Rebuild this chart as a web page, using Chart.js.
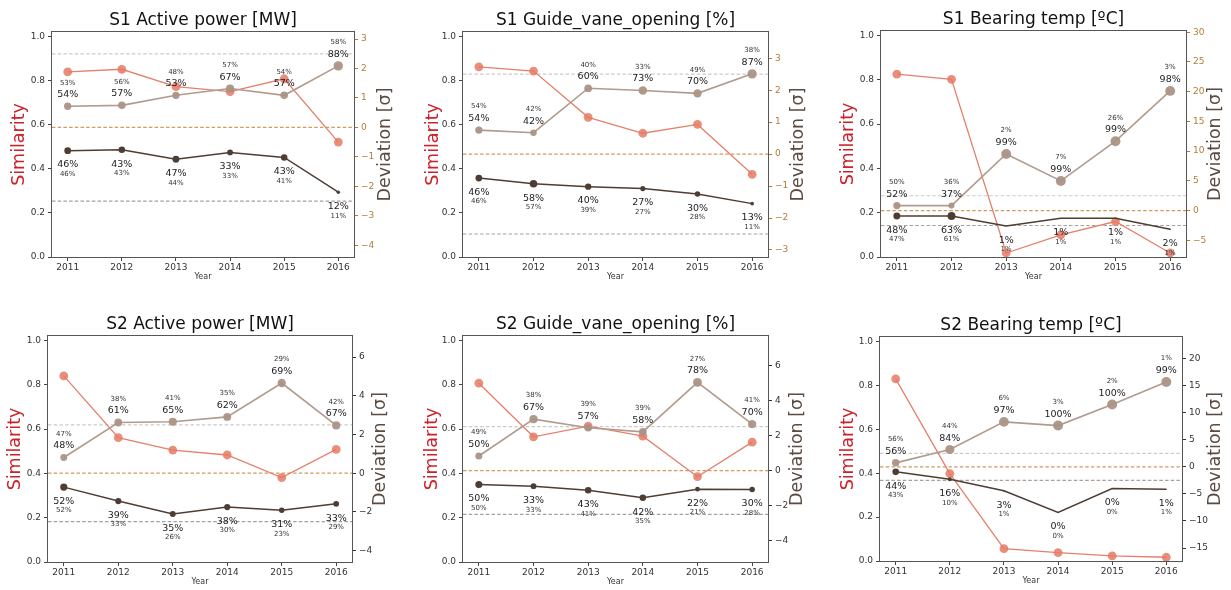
<!DOCTYPE html>
<html><head><meta charset="utf-8">
<script src="https://cdn.jsdelivr.net/npm/chart.js@4.4.1/dist/chart.umd.min.js"></script>
<style>
html,body{margin:0;padding:0;background:#fff;}
body{width:1231px;height:590px;position:relative;overflow:hidden;}
canvas{position:absolute;}
</style></head><body>
<script>
// ---------------- data ----------------
const years = [2011, 2012, 2013, 2014, 2015, 2016];
const titles = ['S1 Active power [MW]', 'S1 Guide_vane_opening [%]', 'S1 Bearing temp [ºC]',
                'S2 Active power [MW]', 'S2 Guide_vane_opening [%]', 'S2 Bearing temp [ºC]'];
const simTicks = [0, 0.2, 0.4, 0.6, 0.8, 1.0];
const devBands = [2.5, 0, -2.5];

// S1 Active power
const s1PowerSim = [0.839, 0.851, 0.772, 0.750, 0.808, 0.521];
const s1PowerUp = [0.72, 0.75, 1.09, 1.32, 1.09, 2.09];
const s1PowerLow = [-0.79, -0.76, -1.08, -0.85, -1.02, -2.20];
const s1PowerUpPct = [54, 57, 53, 67, 57, 88];
const s1PowerUpPctSmall = [53, 56, 48, 57, 54, 58];
const s1PowerLowPct = [46, 43, 47, 33, 43, 12];
const s1PowerLowPctSmall = [46, 43, 44, 33, 41, 11];
const s1PowerDevTicks = [-4, -3, -2, -1, 0, 1, 2, 3];

// S1 Guide vane opening
const s1VaneSim = [0.862, 0.843, 0.633, 0.561, 0.601, 0.375];
const s1VaneUp = [0.75, 0.67, 2.06, 1.99, 1.90, 2.51];
const s1VaneLow = [-0.75, -0.93, -1.02, -1.08, -1.25, -1.55];
const s1VaneUpPct = [54, 42, 60, 73, 70, 87];
const s1VaneUpPctSmall = [54, 42, 40, 33, 49, 38];
const s1VaneLowPct = [46, 58, 40, 27, 30, 13];
const s1VaneLowPctSmall = [46, 57, 39, 27, 28, 11];
const s1VaneDevTicks = [-3, -2, -1, 0, 1, 2, 3];

// S1 Bearing temp
const s1TempSim = [0.825, 0.802, 0.018, 0.100, 0.160, 0.018];
const s1TempUp = [0.84, 0.84, 9.53, 4.99, 11.67, 20.13];
const s1TempLow = [-0.90, -0.90, -2.58, -1.29, -1.29, -3.14];
const s1TempUpPct = [52, 37, 99, 99, 99, 98];
const s1TempUpPctSmall = [50, 36, 2, 7, 26, 3];
const s1TempLowPct = [48, 63, 1, 1, 1, 2];
const s1TempLowPctSmall = [47, 61, 1, 1, 1, 1];
const s1TempDevTicks = [-5, 0, 5, 10, 15, 20, 25, 30];

// S2 Active power
const s2PowerSim = [0.840, 0.561, 0.505, 0.483, 0.381, 0.508];
const s2PowerUp = [0.81, 2.62, 2.66, 2.91, 4.66, 2.47];
const s2PowerLow = [-0.72, -1.44, -2.11, -1.75, -1.92, -1.58];
const s2PowerUpPct = [48, 61, 65, 62, 69, 67];
const s2PowerUpPctSmall = [47, 38, 41, 35, 29, 42];
const s2PowerLowPct = [52, 39, 35, 38, 31, 33];
const s2PowerLowPctSmall = [52, 33, 26, 30, 23, 29];
const s2PowerDevTicks = [-4, -2, 0, 2, 4, 6];

// S2 Guide vane opening
const s2VaneSim = [0.807, 0.565, 0.613, 0.568, 0.385, 0.541];
const s2VaneUp = [0.83, 2.93, 2.44, 2.21, 5.03, 2.65];
const s2VaneLow = [-0.79, -0.89, -1.12, -1.55, -1.06, -1.08];
const s2VaneUpPct = [50, 67, 57, 58, 78, 70];
const s2VaneUpPctSmall = [49, 38, 39, 39, 27, 41];
const s2VaneLowPct = [50, 33, 43, 42, 22, 30];
const s2VaneLowPctSmall = [50, 33, 41, 35, 21, 28];
const s2VaneDevTicks = [-4, -2, 0, 2, 4, 6];

// S2 Bearing temp
const s2TempSim = [0.829, 0.398, 0.056, 0.038, 0.023, 0.017];
const s2TempUp = [0.74, 3.20, 8.31, 7.63, 11.51, 15.69];
const s2TempLow = [-0.92, -2.28, -4.43, -8.43, -4.00, -4.12];
const s2TempUpPct = [56, 84, 97, 100, 100, 99];
const s2TempUpPctSmall = [56, 44, 6, 3, 2, 1];
const s2TempLowPct = [44, 16, 3, 0, 0, 1];
const s2TempLowPctSmall = [43, 10, 1, 0, 0, 1];
const s2TempDevTicks = [-15, -10, -5, 0, 5, 10, 15, 20];

// ---------------- panels (layout / scale settings) ----------------
const panels = [
  {title: titles[0], rect: [52, 32, 354, 257], devMin: -4.4, devMax: 3.24, devTicks: s1PowerDevTicks, devTickColor: '#b27d33',
   sim: s1PowerSim, up: s1PowerUp, low: s1PowerLow, upPct: s1PowerUpPct, upPctS: s1PowerUpPctSmall, lowPct: s1PowerLowPct, lowPctS: s1PowerLowPctSmall, lOff: 33, rOff: 31},
  {title: titles[1], rect: [463, 32, 768, 257], devMin: -3.22, devMax: 3.82, devTicks: s1VaneDevTicks, devTickColor: '#b27d33',
   sim: s1VaneSim, up: s1VaneUp, low: s1VaneLow, upPct: s1VaneUpPct, upPctS: s1VaneUpPctSmall, lowPct: s1VaneLowPct, lowPctS: s1VaneLowPctSmall, lOff: 30, rOff: 30},
  {title: titles[2], rect: [881, 31, 1186, 257], devMin: -7.8, devMax: 30.2, devTicks: s1TempDevTicks, devTickColor: '#b27d33',
   sim: s1TempSim, up: s1TempUp, low: s1TempLow, upPct: s1TempUpPct, upPctS: s1TempUpPctSmall, lowPct: s1TempLowPct, lowPctS: s1TempLowPctSmall, lOff: 33, rOff: 29},
  {title: titles[3], rect: [48, 336, 352, 562], devMin: -4.59, devMax: 7.09, devTicks: s2PowerDevTicks, devTickColor: '#333333',
   sim: s2PowerSim, up: s2PowerUp, low: s2PowerLow, upPct: s2PowerUpPct, upPctS: s2PowerUpPctSmall, lowPct: s2PowerLowPct, lowPctS: s2PowerLowPctSmall, lOff: 33, rOff: 28},
  {title: titles[4], rect: [463, 336, 768, 562], devMin: -5.21, devMax: 7.67, devTicks: s2VaneDevTicks, devTickColor: '#333333',
   sim: s2VaneSim, up: s2VaneUp, low: s2VaneLow, upPct: s2VaneUpPct, upPctS: s2VaneUpPctSmall, lowPct: s2VaneLowPct, lowPctS: s2VaneLowPctSmall, lOff: 31, rOff: 29},
  {title: titles[5], rect: [880, 337, 1182, 561], devMin: -17.4, devMax: 24.0, devTicks: s2TempDevTicks, devTickColor: '#333333',
   sim: s2TempSim, up: s2TempUp, low: s2TempLow, upPct: s2TempUpPct, upPctS: s2TempUpPctSmall, lowPct: s2TempLowPct, lowPctS: s2TempLowPctSmall, lOff: 32, rOff: 33}
];

const FONT = '"DejaVu Sans", sans-serif';
const PAD_L = 52, PAD_R = 48, PAD_T = 32, PAD_B = 32;
const RED = '#e4806b', TAUPE = '#b09b8d', DARK = '#4e3d33';
const fmtDev = v => (v < 0 ? '\u2212' + Math.abs(v) : String(v));

const overlay = {
  id: 'overlay',
  beforeDatasetsDraw(chart) {
    const {ctx, chartArea: a} = chart;
    const ys = chart.scales.yDev;
    const cols = ['#cfcaca', '#d49b60', '#a99f9b'];
    ctx.save();
    ctx.lineWidth = 1.2;
    ctx.setLineDash([3.5, 2.2]);
    devBands.forEach((v, i) => {
      const y = ys.getPixelForValue(v);
      ctx.strokeStyle = cols[i];
      ctx.beginPath(); ctx.moveTo(a.left, y); ctx.lineTo(a.right, y); ctx.stroke();
    });
    ctx.restore();
  },
  afterDatasetsDraw(chart) {
    const p = chart.options.plugins.overlay.panel;
    const {ctx} = chart;
    const xs = chart.scales.x, ys = chart.scales.yDev;
    ctx.save();
    ctx.textAlign = 'center';
    ctx.textBaseline = 'middle';
    years.forEach((yr, i) => {
      const x = xs.getPixelForValue(yr);
      const yu = ys.getPixelForValue(p.up[i]);
      const yl = ys.getPixelForValue(p.low[i]);
      ctx.fillStyle = '#222';
      ctx.font = '9.5px ' + FONT;
      ctx.fillText(p.upPct[i] + '%', x, yu - 11.5);
      ctx.fillText(p.lowPct[i] + '%', x, yl + 14.3);
      ctx.fillStyle = '#333';
      ctx.font = '7px ' + FONT;
      ctx.fillText(p.upPctS[i] + '%', x, yu - 23.5);
      ctx.fillText(p.lowPctS[i] + '%', x, yl + 23.5);
    });
    ctx.restore();
  },
  afterDraw(chart) {
    const p = chart.options.plugins.overlay.panel;
    const {ctx, chartArea: a} = chart;
    const cx = (a.left + a.right) / 2, cy = (a.top + a.bottom) / 2;
    ctx.save();
    ctx.strokeStyle = '#555';
    ctx.lineWidth = 1;
    ctx.strokeRect(Math.round(a.left) - 0.5, Math.round(a.top) - 0.5, Math.round(a.right - a.left) + 1, Math.round(a.bottom - a.top) + 1);
    ctx.fillStyle = '#111';
    ctx.font = '17px ' + FONT;
    ctx.textAlign = 'center';
    ctx.textBaseline = 'middle';
    ctx.fillText(p.title, cx, a.top - 11);
    ctx.fillStyle = '#333';
    ctx.font = '8px ' + FONT;
    ctx.fillText('Year', cx, a.bottom + 20);
    ctx.save();
    ctx.translate(a.left - p.lOff, cy);
    ctx.rotate(-Math.PI / 2);
    ctx.fillStyle = '#cc2229';
    ctx.font = '17.5px ' + FONT;
    ctx.fillText('Similarity', 0, 0);
    ctx.restore();
    ctx.save();
    ctx.translate(a.right + p.rOff, cy);
    ctx.rotate(-Math.PI / 2);
    ctx.fillStyle = '#5c4b41';
    ctx.font = '17.5px ' + FONT;
    ctx.fillText('Deviation [\u03c3]', 0, 0);
    ctx.restore();
    ctx.restore();
  }
};

panels.forEach(p => {
  const [L, T, R, B] = p.rect;
  const cv = document.createElement('canvas');
  const W = (R - L) + PAD_L + PAD_R, H = (B - T) + PAD_T + PAD_B;
  cv.width = W; cv.height = H;
  cv.style.left = (L - PAD_L) + 'px';
  cv.style.top = (T - PAD_T) + 'px';
  cv.style.width = W + 'px'; cv.style.height = H + 'px';
  document.body.appendChild(cv);
  const pts = arr => years.map((y, i) => ({x: y, y: arr[i]}));
  new Chart(cv.getContext('2d'), {
    type: 'line',
    data: {
      datasets: [
        {data: pts(p.low), yAxisID: 'yDev', borderColor: DARK, borderWidth: 1.5,
         pointBackgroundColor: DARK, pointBorderWidth: 0,
         pointRadius: c => 0.5 * Math.sqrt(p.lowPct[c.dataIndex]), tension: 0},
        {data: pts(p.up), yAxisID: 'yDev', borderColor: TAUPE, borderWidth: 1.6,
         pointBackgroundColor: 'rgba(170,148,134,0.95)', pointBorderWidth: 0,
         pointRadius: c => 0.5 * Math.sqrt(p.upPct[c.dataIndex]), tension: 0},
        {data: pts(p.sim), yAxisID: 'ySim', borderColor: RED, borderWidth: 1.3,
         pointBackgroundColor: 'rgba(228,122,100,0.85)', pointBorderWidth: 0,
         pointRadius: 4.4, tension: 0}
      ]
    },
    options: {
      responsive: false, animation: false, devicePixelRatio: 1,
      layout: {padding: {top: PAD_T, left: 0, right: 0, bottom: 0}},
      plugins: {legend: {display: false}, tooltip: {enabled: false}, title: {display: false},
                overlay: {panel: p}},
      scales: {
        x: {type: 'linear', position: 'bottom', min: 2010.71, max: 2016.29,
            afterBuildTicks: s => { s.ticks = years.map(v => ({value: v})); },
            afterFit: s => { s.height = PAD_B; },
            grid: {display: true, drawOnChartArea: false, drawTicks: true, tickLength: 4, color: '#444', tickColor: '#444'},
            border: {display: false},
            ticks: {font: {family: FONT, size: 9}, color: '#333', padding: 1, maxRotation: 0, autoSkip: false,
                    callback: v => String(v)}},
        ySim: {type: 'linear', position: 'left', min: 0, max: 1.02,
            afterBuildTicks: s => { s.ticks = simTicks.map(v => ({value: v})); },
            afterFit: s => { s.width = PAD_L; },
            grid: {display: true, drawOnChartArea: false, drawTicks: true, tickLength: 4, color: '#444', tickColor: '#444'},
            border: {display: false},
            ticks: {font: {family: FONT, size: 9}, color: '#333', padding: 3, callback: v => v.toFixed(1)}},
        yDev: {type: 'linear', position: 'right', min: p.devMin, max: p.devMax,
            afterBuildTicks: s => { s.ticks = p.devTicks.map(v => ({value: v})); },
            afterFit: s => { s.width = PAD_R; },
            grid: {display: true, drawOnChartArea: false, drawTicks: true, tickLength: 4, color: p.devTickColor, tickColor: p.devTickColor},
            border: {display: false},
            ticks: {font: {family: FONT, size: 9}, color: p.devTickColor, padding: 3, callback: fmtDev}}
      }
    },
    plugins: [overlay]
  });
});
</script>
</body></html>
